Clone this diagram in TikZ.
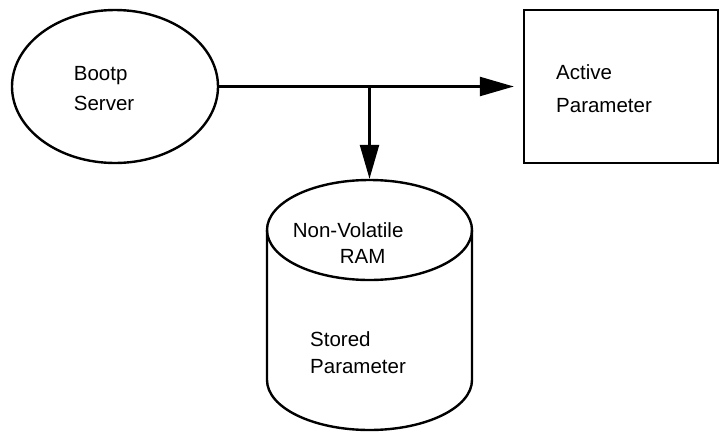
\documentclass[tikz,border=0pt]{standalone}
\usepackage{fontspec}
\setmainfont{Liberation Sans}
\usetikzlibrary{shapes.geometric,arrows.meta}
\tikzset{
	server/.style = {draw, ellipse, minimum width=206pt, minimum height=153pt, inner sep=0pt},
	param/.style  = {draw, rectangle, minimum width=194pt, minimum height=153pt, inner sep=0pt},
	store/.style  = {rectangle, minimum width=205pt, minimum height=250pt, inner sep=0pt},
	lbl/.style    = {anchor=base west, align=left, inner sep=0pt}
}
\newcommand{\lblfont}[1]{\fontsize{20.5}{#1}\selectfont}

\begin{document}
\begin{tikzpicture}[x=1pt, y=-1pt, line width=2.4pt, >={Triangle[length=34pt,width=19pt]}]
	\useasboundingbox (0,0) rectangle (721,432);

	\draw
	% the three blocks
	node at (115,86.5) [server] (boot) {}
	node at (621,86.5) [param] (active) {}
	node at (369.5,305) [store] (nvram) {};

	% the drum of the RAM
	\draw (267,230) -- (267,380) arc[start angle=180, end angle=0, x radius=102.5, y radius=50] -- (472,230);
	\draw (369.5,230) ellipse [x radius=102.5, y radius=50];

	\draw
	% their texts
	node at (72.7,110.7) [lbl, font=\lblfont{30}] (bootlbl) {Bootp\\Server}
	node at (555,112) [lbl, font=\lblfont{33}] (activelbl) {Active\\Parameter}
	node at (291.7,263) [lbl, font=\lblfont{26}] (ramlbl) {Non-Volatile\\\hspace*{47pt}RAM}
	node at (309,373) [lbl, font=\lblfont{27}] (storedlbl) {Stored\\Parameter};

	\coordinate (split) at (369.5,86.5);
	\draw[->, shorten >=9pt](boot) -- (active);
	\draw[->](split) -- (nvram.north);

\end{tikzpicture}
\end{document}
